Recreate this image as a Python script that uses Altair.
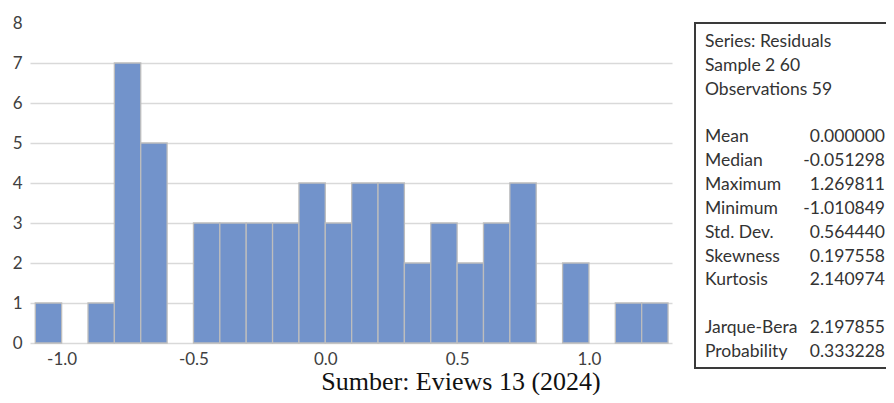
import altair as alt
import pandas as pd

# Histogram bins (left edges) and counts
bin_left = [-1.1, -1.0, -0.9, -0.8, -0.7, -0.6, -0.5, -0.4, -0.3, -0.2, -0.1, 0.0,
            0.1, 0.2, 0.3, 0.4, 0.5, 0.6, 0.7, 0.8, 0.9, 1.0, 1.1, 1.2]
counts = [1, 0, 1, 7, 5, 0, 3, 3, 3, 3, 4, 3,
          4, 4, 2, 3, 2, 3, 4, 0, 2, 0, 1, 1]
bin_width = 0.1

x_ticks = [-1.0, -0.5, 0.0, 0.5, 1.0]
y_ticks = [0, 1, 2, 3, 4, 5, 6, 7, 8]

stat_rows = [0, 1, 2, 4, 5, 6, 7, 8, 9, 10, 12, 13]
stat_labels = ["Series: Residuals", "Sample 2 60", "Observations 59",
               "Mean", "Median", "Maximum", "Minimum", "Std. Dev.",
               "Skewness", "Kurtosis", "Jarque-Bera", "Probability"]
stat_values = ["", "", "",
               "0.000000", "-0.051298", "1.269811", "-1.010849", "0.564440",
               "0.197558", "2.140974", "2.197855", "0.333228"]

caption = "Sumber: Eviews 13 (2024)"

hist = pd.DataFrame({"left": bin_left, "count": counts})
hist["right"] = hist["left"] + bin_width
stats = pd.DataFrame({"row": stat_rows, "label": stat_labels, "value": stat_values})

FONT = "Lato"

bars = alt.Chart(hist).transform_filter("datum.count > 0").mark_bar(
    color="#7293CB", stroke="#BDBDBD", strokeWidth=1.3
).encode(
    x=alt.X("left:Q", scale=alt.Scale(domain=[-1.12, 1.315], nice=False, zero=False),
            axis=alt.Axis(values=x_ticks, format=".1f", title=None, grid=False,
                          domain=False, ticks=False, labelPadding=8,
                          labelExpr="replace(datum.label, '\u2212', '-')",
                          labelFontSize=17, labelFont=FONT, labelColor="#404040")),
    x2="right:Q",
    y=alt.Y("count:Q", scale=alt.Scale(domain=[0, 8], nice=False),
            axis=alt.Axis(values=y_ticks, title=None, domain=False, ticks=False,
                          labelPadding=8, labelFontSize=17, labelFont=FONT,
                          labelColor="#404040", gridColor="#D9D9D9", gridWidth=1.5,
                          gridOpacity=alt.condition("datum.value == 8", alt.value(0), alt.value(1)))),
    y2=alt.datum(0),
)

box = alt.Chart(pd.DataFrame({"k": [0]})).mark_rect(
    fill=None, stroke="#3a3a3a", strokeWidth=2
).encode(x=alt.value(665), x2=alt.value(900), y=alt.value(0), y2=alt.value(345))

ys = alt.Y("row:Q", scale=alt.Scale(domain=[0, 13], range=[19, 329]), axis=None)

lab = alt.Chart(stats).mark_text(
    align="left", baseline="middle", font=FONT, fontSize=17.5, color="#333333"
).encode(x=alt.value(675), y=ys, text="label:N")

val = alt.Chart(stats).mark_text(
    align="right", baseline="middle", font=FONT, fontSize=17.5, color="#333333"
).encode(x=alt.value(855), y=ys, text="value:N")

cap = alt.Chart(pd.DataFrame({"t": [caption]})).mark_text(
    align="center", baseline="alphabetic", font="Liberation Serif", fontSize=26, color="#111111"
).encode(x=alt.value(431), y=alt.value(367), text="t:N")

chart = alt.layer(bars, box, lab, val, cap).resolve_scale(y="independent").properties(
    width=642, height=320,
    autosize=alt.AutoSizeParams(type="none"),
    padding={"left": 22, "top": 15, "right": 214, "bottom": 52},
).configure_view(stroke=None)

chart.save("out.html", embed_options={"renderer": "svg", "actions": False})
